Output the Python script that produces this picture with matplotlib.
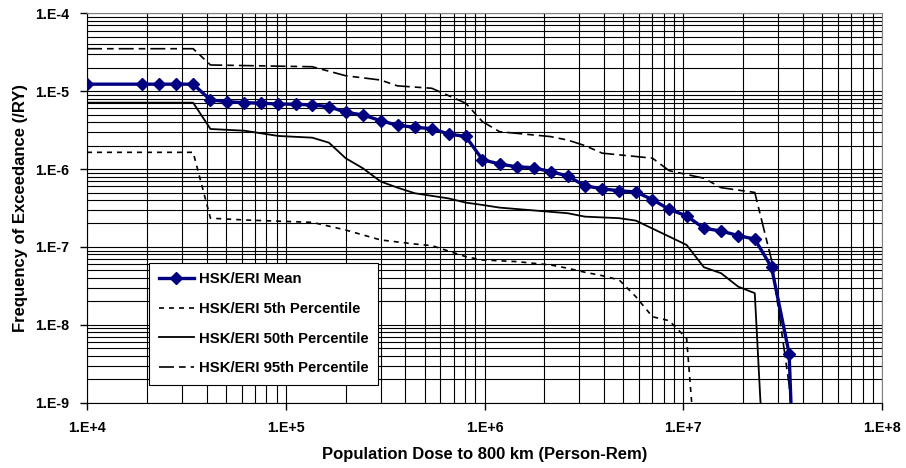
import numpy as np
import matplotlib.pyplot as plt
from matplotlib.ticker import LogLocator, FuncFormatter, NullFormatter

plt.rcParams['font.family'] = ['Liberation Sans', 'DejaVu Sans']
plt.rcParams['font.weight'] = 'bold'

# HSK/ERI Mean
mean_x = [1.0e4, 1.90e4, 2.30e4, 2.82e4, 3.42e4, 4.18e4, 5.09e4, 6.17e4, 7.51e4, 9.19e4,
          1.12e5, 1.36e5, 1.65e5, 2.00e5, 2.45e5, 3.00e5, 3.65e5, 4.46e5, 5.43e5, 6.59e5,
          8.05e5, 9.77e5, 1.19e6, 1.45e6, 1.77e6, 2.15e6, 2.62e6, 3.20e6, 3.91e6, 4.76e6,
          5.77e6, 7.00e6, 8.49e6, 1.04e7, 1.27e7, 1.55e7, 1.89e7, 2.29e7, 2.78e7, 3.41e7, 3.60e7]
mean_y = [1.23e-5, 1.23e-5, 1.23e-5, 1.23e-5, 1.23e-5,
          7.71e-6, 7.33e-6, 7.12e-6, 7.00e-6, 6.85e-6, 6.79e-6, 6.65e-6, 6.33e-6, 5.36e-6,
          4.95e-6, 4.18e-6, 3.65e-6, 3.44e-6, 3.30e-6, 2.82e-6, 2.62e-6,
          1.32e-6, 1.16e-6, 1.07e-6, 1.04e-6,
          9.27e-7, 8.15e-7, 6.10e-7, 5.58e-7, 5.26e-7, 5.08e-7, 4.05e-7, 3.05e-7, 2.50e-7,
          1.74e-7, 1.60e-7, 1.40e-7, 1.26e-7,
          5.49e-8, 4.27e-9, 1e-10]

# HSK/ERI 5th Percentile
p5_x = [1.0e4, 3.42e4, 4.18e4, 6.17e4, 1.36e5, 2.00e5, 3.00e5, 4.46e5, 5.43e5, 8.05e5,
        9.77e5, 1.45e6, 2.15e6, 2.62e6, 3.20e6, 3.91e6, 4.76e6, 5.77e6, 7.00e6, 8.49e6,
        1.04e7, 1.27e7]
p5_y = [1.64e-6, 1.64e-6, 2.34e-7, 2.22e-7, 2.07e-7, 1.65e-7, 1.23e-7, 1.09e-7, 1.04e-7, 7.5e-8,
        6.8e-8, 6.48e-8, 5.87e-8, 5.33e-8, 4.73e-8, 4.28e-8, 3.77e-8, 2.30e-8, 1.27e-8, 1.13e-8,
        6.7e-9, 1e-11]

# HSK/ERI 50th Percentile
p50_x = [1.0e4, 3.42e4, 4.18e4, 6.17e4, 9.19e4, 1.36e5, 1.65e5, 2.00e5, 2.45e5, 3.00e5,
         3.65e5, 4.46e5, 6.59e5, 8.05e5, 9.77e5, 1.19e6, 2.62e6, 3.20e6, 4.76e6, 5.77e6,
         8.49e6, 1.04e7, 1.27e7, 1.55e7, 1.89e7, 2.29e7, 2.78e7]
p50_y = [7.12e-6, 7.12e-6, 3.27e-6, 3.11e-6, 2.66e-6, 2.53e-6, 2.18e-6, 1.38e-6, 1.02e-6, 6.93e-7,
         5.77e-7, 4.89e-7, 4.20e-7, 3.71e-7, 3.46e-7, 3.20e-7, 2.71e-7, 2.45e-7, 2.34e-7, 2.18e-7,
         1.36e-7, 1.06e-7, 5.49e-8, 4.60e-8, 3.09e-8, 2.55e-8, 2e-12]

# HSK/ERI 95th Percentile
p95_x = [1.0e4, 3.42e4, 4.18e4, 1.36e5, 2.00e5, 3.00e5, 3.65e5, 5.43e5, 8.05e5, 9.77e5,
         1.19e6, 2.15e6, 2.62e6, 3.20e6, 3.91e6, 7.00e6, 8.49e6, 1.27e7, 1.55e7, 2.29e7,
         2.78e7, 3.41e7, 3.60e7]
p95_y = [3.51e-5, 3.51e-5, 2.17e-5, 2.06e-5, 1.58e-5, 1.39e-5, 1.17e-5, 1.09e-5, 7.0e-6, 4.06e-6,
         3.02e-6, 2.61e-6, 2.36e-6, 2.0e-6, 1.60e-6, 1.38e-6, 9.54e-7, 7.62e-7, 5.77e-7, 5.01e-7,
         6.8e-8, 1.7e-9, 3e-10]

fig = plt.figure(figsize=(9.06, 4.68), dpi=100)
ax = fig.add_axes([87 / 906, 1 - 402.7 / 468, 795 / 906, 389.4 / 468])

ax.plot(mean_x, mean_y, color='#000080', lw=2.4, marker='D', ms=6.5,
        label='HSK/ERI Mean', zorder=5)
ax.plot(p5_x, p5_y, color='black', lw=1.2, dashes=(3, 3),
        label='HSK/ERI 5th Percentile', zorder=4)
ax.plot(p50_x, p50_y, color='black', lw=1.3, label='HSK/ERI 50th Percentile', zorder=4)
ax.plot(p95_x, p95_y, color='black', lw=1.2, dashes=(9, 3, 4, 3),
        label='HSK/ERI 95th Percentile', zorder=4)

ax.set_xscale('log')
ax.set_yscale('log')
ax.set_xlim(1e4, 1e8)
ax.set_ylim(1e-9, 1e-4)

fmt = FuncFormatter(lambda v, p: '1.E%+d' % int(round(np.log10(v))))
ax.xaxis.set_major_locator(LogLocator(base=10, numticks=10))
ax.yaxis.set_major_locator(LogLocator(base=10, numticks=10))
ax.xaxis.set_major_formatter(fmt)
ax.yaxis.set_major_formatter(fmt)
ax.xaxis.set_minor_locator(LogLocator(base=10, subs=np.arange(2, 10), numticks=20))
ax.yaxis.set_minor_locator(LogLocator(base=10, subs=np.arange(2, 10), numticks=20))
ax.xaxis.set_minor_formatter(NullFormatter())
ax.yaxis.set_minor_formatter(NullFormatter())

ax.grid(True, which='both', color='black', lw=0.8)
ax.set_axisbelow(True)
ax.tick_params(which='major', direction='out', length=5, width=1, labelsize=10.3, pad=8)
ax.tick_params(which='minor', length=0)
ax.tick_params(axis='x', pad=8)
for s in ['top', 'right']:
    ax.spines[s].set_color('#808080')
for s in ['left', 'bottom']:
    ax.spines[s].set_color('black')

ax.set_xlabel('Population Dose to 800 km (Person-Rem)', fontsize=12, fontweight='bold', labelpad=9)
ax.set_ylabel('Frequency of Exceedance (/RY)', fontsize=12, fontweight='bold', labelpad=5)

leg = ax.legend(loc='upper left', bbox_to_anchor=(62 / 795, (402.7 - 262.7) / 389.4),
                frameon=True, fancybox=False, edgecolor='black', framealpha=1,
                fontsize=10.7, handlelength=2.4, handletextpad=0.3, labelspacing=1.05,
                borderpad=0.65, borderaxespad=0)
leg.get_frame().set_linewidth(0.8)
for t in leg.get_texts():
    t.set_fontweight('bold')

fig.savefig('out.png', dpi=100)
